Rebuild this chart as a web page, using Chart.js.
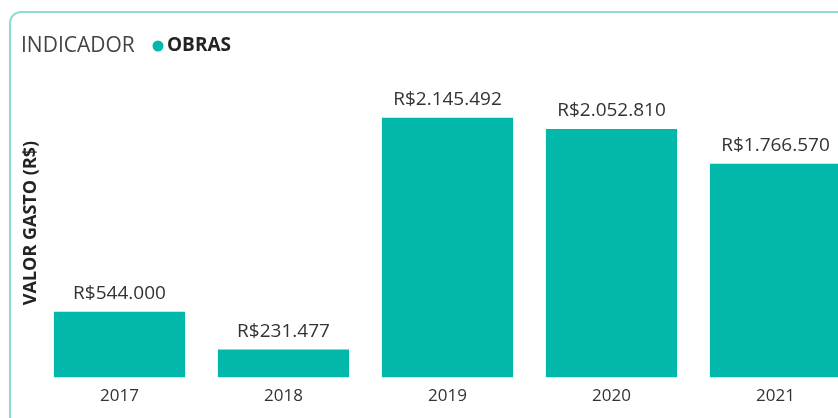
<!DOCTYPE html>
<html>
<head>
<meta charset="utf-8">
<script src="https://cdn.jsdelivr.net/npm/chart.js@4"></script>
<style>
  html, body { margin: 0; padding: 0; background: #fff; overflow: hidden; }
  #wrap { position: relative; width: 838px; height: 418px; overflow: hidden; }
  #frame {
    position: absolute; left: 9px; top: 11px; width: 900px; height: 460px;
    border: 2px solid #8fdcd4; border-radius: 12px; box-sizing: border-box;
  }
  #chart { position: absolute; left: 0; top: 0; }
</style>
</head>
<body>
<div id="wrap">
  <div id="frame"></div>
  <canvas id="chart" width="880" height="418"></canvas>
</div>
<script>
// data
const years = ["2017", "2018", "2019", "2020", "2021"];
const obras = [544000, 231477, 2145492, 2052810, 1766570];
const seriesName = "OBRAS";
const legendTitle = "INDICADOR";
const yTitle = "VALOR GASTO (R$)";

const barColor = "#01B8AA";
const FONT = "'Open Sans', 'Noto Sans', sans-serif";

function brl(v) {
  return "R$" + String(v).replace(/\B(?=(\d{3})+(?!\d))/g, ".");
}

// legend + axis title + value labels drawn on the canvas
const extras = {
  id: "extras",
  afterDatasetsDraw(chart) {
    const ctx = chart.ctx;
    ctx.save();
    ctx.textBaseline = "middle";

    // legend
    ctx.font = "21px " + FONT;
    ctx.fillStyle = "#444";
    ctx.textAlign = "left";
    ctx.fillText(legendTitle, 21, 46);
    ctx.fillStyle = barColor;
    ctx.beginPath();
    ctx.arc(158, 46, 5.5, 0, Math.PI * 2);
    ctx.fill();
    ctx.font = "bold 19px " + FONT;
    ctx.fillStyle = "#252423";
    ctx.fillText(chart.data.datasets[0].label, 167, 46);

    // y title
    ctx.save();
    ctx.translate(31, 223);
    ctx.rotate(-Math.PI / 2);
    ctx.textAlign = "center";
    ctx.font = "bold 18px " + FONT;
    ctx.fillStyle = "#252423";
    ctx.fillText(yTitle, 0, 0);
    ctx.restore();

    // value labels
    ctx.font = "19px " + FONT;
    ctx.fillStyle = "#333";
    ctx.textAlign = "center";
    chart.getDatasetMeta(0).data.forEach((bar, i) => {
      ctx.fillText(brl(chart.data.datasets[0].data[i]), bar.x, bar.y - 18);
    });
    ctx.restore();
  }
};

new Chart(document.getElementById("chart"), {
  type: "bar",
  data: {
    labels: years,
    datasets: [{
      label: seriesName,
      data: obras,
      backgroundColor: barColor,
      categoryPercentage: 1,
      barPercentage: 0.8
    }]
  },
  options: {
    responsive: false,
    animation: false,
    devicePixelRatio: 1,
    layout: { padding: { left: 37.5, right: 22.5, top: 87, bottom: 12 } },
    plugins: { legend: { display: false }, tooltip: { enabled: false } },
    scales: {
      x: {
        grid: { display: false },
        border: { display: false },
        ticks: { color: "#333", font: { family: FONT, size: 17 }, padding: 0 }
      },
      y: { display: false, min: 0, max: 2400000 }
    }
  },
  plugins: [extras]
});
</script>
</body>
</html>
